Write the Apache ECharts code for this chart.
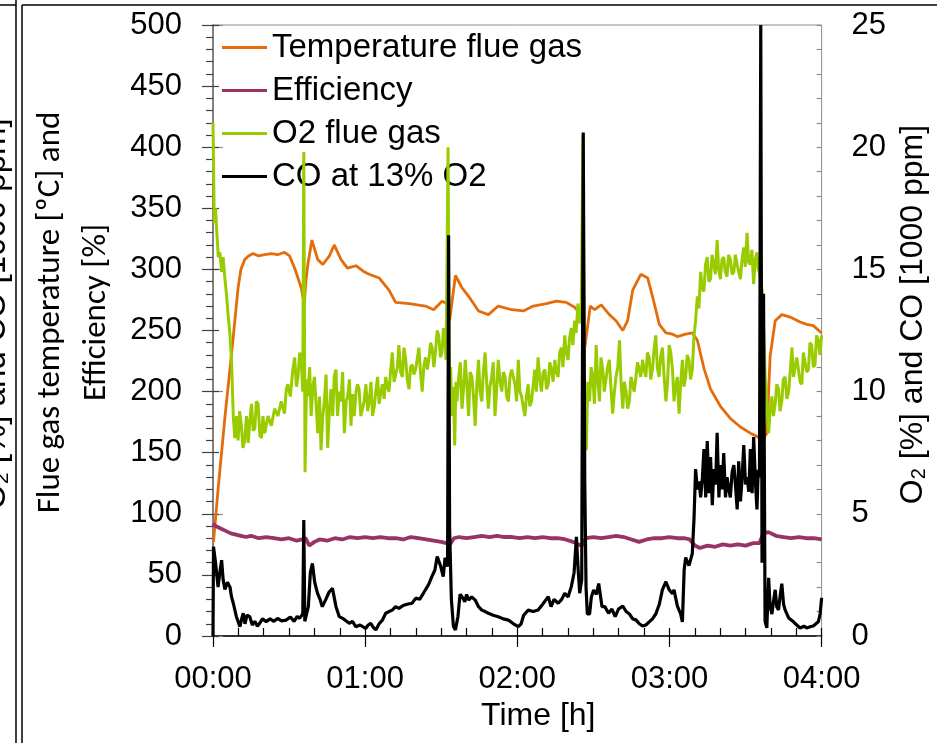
<!DOCTYPE html>
<html>
<head>
<meta charset="utf-8">
<script src="https://cdn.jsdelivr.net/npm/echarts@6/dist/echarts.min.js"></script>
<style>
  html, body { margin: 0; padding: 0; background: #fff; }
  #main { width: 937px; height: 743px; }
</style>
</head>
<body>
<div id="main"></div>
<script>
// time in minutes from start
const seriesNames = ['Temperature flue gas', 'Efficiency', 'O2 flue gas', 'CO at 13% O2'];

// left axis [°C]
const temperature = [
  [0.2,77],[2,120],[4.7,179],[6.5,215],[8,245],[9.9,285],[11,300],[12.5,308],[14,311],[15.8,313],
  [18,311],[20.4,312],[23,313],[25.5,312],[28.2,314],[30.2,311],[32.2,301],[34.8,285],[36,271],[36.6,290],
  [37.4,304],[39,324],[41.3,308],[43.3,304],[45.9,311],[47.8,320],[50.5,308],[53,301],[56.4,303],[59.6,298],
  [61.6,296],[65.5,293],[69.4,283],[72,273],[77.3,272],[83.8,270],[87,267],[90.3,274],[92.3,272],[93.3,258],
  [95.6,295],[98.2,285],[100.8,278],[104.7,266],[108.6,263],[112.5,270],[117.8,267],[122.4,266],[126.3,270],
  [131.5,272],[135.4,274],[139.3,273],[142.6,269],[145.2,263],[146.6,236],[148.8,270],[150.5,267],[153.1,271],
  [156.3,263],[158.9,258],[161.6,250],[163.5,258],[165.5,283],[168.7,296],[171.4,293],[173.3,278],[176,255],
  [178.6,248],[181.2,247],[183.1,245],[186.4,247],[189,248],[191,242],[193.6,219],[196.2,202],[200.1,188],
  [204,178],[208,171],[211.9,166],[214.8,163],[216.5,160],[218.4,166],[219.7,229],[221.7,258],[224.3,263],
  [227.6,261],[231.5,257],[234.1,255],[236.7,254],[240,248]
];

// left axis [%]
const efficiency = [
  [0,92],[1,90],[3,88],[5,86],[7,84],[9,83],[11,82],[13,81],[15,82],[18,80],[21,81],[24,80],[27,79],[30,80],
  [33,78],[35,79],[36.5,80],[38,74],[40,77],[42,79],[45,78],[48,80],[51,79],[54,81],[57,80],[60,81],[63,80],
  [66,81],[69,80],[72,80],[75,79],[78,81],[81,80],[84,79],[87,78],[90,77],[92,76],[93.5,75],[95,80],[97,81],
  [100,80],[103,81],[106,82],[109,81],[112,82],[115,81],[118,81],[121,80],[124,81],[127,80],[130,81],[133,80],
  [136,80],[139,79],[142,77],[144,75],[145.5,74],[147,80],[150,81],[153,80],[156,81],[159,82],[162,81],[165,79],
  [168,77],[171,79],[174,80],[177,80],[180,81],[183,80],[186,80],[188,79],[190,74],[192,72],[195,74],[198,73],
  [201,75],[204,74],[207,75],[210,74],[213,76],[215.5,76],[217,84],[219,85],[222,82],[225,81],[228,80],[231,81],
  [234,80],[237,80],[240,79]
];

// right axis [%]
const o2 = [
  [0,21.0],[0.5,16.9],[1.0,17.5],[1.4,16.7],[2.1,15.5],[2.7,15.7],[3.4,14.9],[4.0,15.5],[4.7,14.6],[5.3,14.0],
  [6.0,13.1],[6.7,12.3],[7.3,11.3],[8.0,9.0],[8.6,8.1],[9.3,9.0],[9.9,8.0],[10.5,9.2],[11.2,8.6],[11.8,7.7],
  [12.5,8.0],[13.2,9.0],[13.9,7.9],[14.5,8.8],[15.2,9.5],[15.8,8.4],[16.5,8.5],[17.1,9.6],[17.8,9.5],[18.5,8.2],
  [19.1,8.1],[19.7,9.0],[20.4,8.3],[21.7,9.0],[23.0,8.6],[24.3,9.3],[25.6,9.0],[26.9,9.6],[28.2,9.1],[28.9,10.1],
  [29.5,10.3],[30.5,9.8],[31.5,10.9],[32.2,11.4],[32.9,10.2],[33.5,10.6],[34.2,11.6],[34.8,11.3],[35.4,10.0],
  [35.8,19.8],[36.3,6.7],[36.9,10.5],[37.4,9.8],[38.1,11.0],[38.7,9.0],[39.4,10.2],[40.0,10.6],[40.7,9.4],
  [41.3,8.3],[42.0,9.8],[42.6,7.6],[43.3,9.0],[43.9,9.6],[44.6,10.7],[45.2,7.7],[45.9,9.2],[46.5,10.1],[47.2,9.0],
  [47.8,10.6],[48.5,10.9],[49.1,9.0],[49.8,10.0],[50.5,9.6],[51.1,10.8],[51.8,8.3],[52.5,9.6],[53.1,9.8],
  [53.8,10.5],[54.4,8.6],[55.1,9.9],[55.7,9.0],[56.4,10.0],[57.0,10.3],[57.6,10.1],[58.3,9.0],[59.0,9.0],
  [59.6,9.6],[60.3,10.3],[61.0,9.2],[61.6,9.6],[62.3,10.4],[62.9,9.0],[63.6,9.4],[64.2,10.0],[64.9,10.6],
  [65.5,9.5],[66.1,9.9],[66.8,10.3],[67.5,9.7],[68.1,10.6],[68.8,10.2],[69.4,10.0],[70.1,10.9],[70.7,11.6],
  [71.4,10.4],[72.0,10.4],[72.7,11.0],[73.3,11.9],[74.0,10.8],[74.7,10.6],[75.3,11.8],[76.0,11.3],[76.6,10.5],
  [77.3,10.1],[77.9,11.0],[78.6,11.1],[79.2,10.7],[79.9,10.9],[80.5,11.3],[81.2,11.8],[81.8,10.8],[82.5,10.0],
  [83.1,11.0],[83.8,11.4],[84.5,10.9],[85.1,11.3],[85.8,12.0],[86.4,11.8],[87.1,11.0],[87.7,11.6],[88.4,12.5],
  [89.0,12.3],[89.7,11.4],[90.3,11.6],[90.9,12.6],[91.4,12.4],[91.9,11.3],[92.7,20.0],[93.2,9.0],[93.7,11.0],
  [94.3,9.0],[94.8,10.2],[95.3,7.8],[95.8,10.4],[96.2,9.6],[96.9,10.6],[97.5,11.2],[98.2,9.3],[98.8,10.1],
  [99.5,11.3],[100.1,10.3],[100.8,9.0],[101.4,10.8],[102.1,10.6],[102.7,9.8],[103.4,8.6],[104.0,10.2],
  [104.7,11.3],[105.3,10.0],[106.0,9.6],[106.6,10.8],[107.3,11.6],[107.9,10.4],[108.6,9.3],[109.2,10.2],
  [109.9,10.6],[110.5,11.2],[111.2,9.0],[111.8,10.0],[112.5,11.3],[113.2,10.4],[113.9,10.0],[114.5,10.8],
  [115.2,10.6],[115.8,9.8],[116.5,9.6],[117.1,10.6],[117.8,10.9],[118.4,10.6],[119.1,10.3],[119.7,9.6],
  [120.4,11.3],[121.0,10.0],[121.7,9.8],[122.3,9.4],[123.0,9.0],[123.6,9.8],[124.3,10.3],[124.9,9.4],
  [125.6,9.6],[126.2,10.2],[126.9,10.9],[127.5,10.0],[128.2,11.4],[128.8,10.6],[129.5,10.0],[130.2,10.8],
  [130.9,10.9],[131.5,10.1],[132.2,10.3],[132.8,11.2],[133.5,10.9],[134.1,10.4],[134.8,11.3],[135.4,10.8],
  [136.1,10.6],[136.7,11.6],[137.4,11.8],[138.0,11.0],[138.7,12.3],[139.3,11.6],[140.0,11.3],[140.6,12.2],
  [141.3,12.6],[141.9,11.9],[142.6,12.9],[143.2,12.4],[143.9,13.6],[144.5,12.8],[145.2,13.2],[145.9,20.5],
  [146.5,9.5],[147.2,7.6],[147.8,10.4],[148.5,9.6],[149.1,11.0],[149.8,10.6],[150.4,9.5],[151.1,11.9],
  [151.7,10.5],[152.4,9.6],[153.0,11.4],[153.7,10.9],[154.3,10.0],[155.0,10.0],[155.6,11.0],[156.3,11.3],
  [156.9,10.2],[157.6,9.1],[158.2,9.9],[158.9,10.6],[159.6,11.0],[160.3,12.1],[160.9,10.4],[161.6,9.3],
  [162.2,10.4],[162.9,10.0],[163.5,9.3],[164.2,9.6],[164.8,10.6],[165.5,10.3],[166.1,10.0],[166.8,10.6],
  [167.4,11.2],[168.1,10.9],[168.7,10.6],[169.4,11.3],[170.0,10.9],[170.7,10.6],[171.3,11.6],[172.0,11.4],
  [172.6,10.5],[173.3,10.9],[173.9,11.7],[174.6,12.3],[175.2,11.0],[175.9,10.6],[176.5,11.4],[177.2,11.8],
  [177.9,10.6],[178.6,9.6],[179.2,10.3],[179.9,11.9],[180.5,11.6],[181.2,10.9],[181.8,9.6],[182.4,10.2],
  [183.1,10.6],[183.8,9.1],[184.4,10.3],[185.1,11.3],[185.7,10.2],[186.4,10.6],[187.0,11.5],[187.7,11.3],
  [188.3,10.5],[189.0,10.9],[189.7,12.3],[190.3,12.9],[191.0,13.9],[191.6,13.4],[192.3,14.9],[192.9,14.2],
  [193.6,14.1],[194.2,15.2],[194.9,15.5],[195.5,14.5],[196.2,14.6],[196.8,15.6],[197.5,15.2],[198.1,14.8],
  [198.8,16.2],[199.4,15.0],[200.1,14.6],[200.7,15.4],[201.4,15.5],[202.0,14.9],[202.7,14.7],[203.3,15.6],
  [204.0,15.4],[204.7,14.8],[205.4,14.9],[206.0,15.6],[206.7,15.2],[207.3,14.9],[208.0,14.6],[208.6,15.4],
  [209.3,15.9],[209.9,15.1],[210.6,16.5],[211.2,15.3],[211.9,15.2],[212.5,15.8],[213.2,14.4],[213.8,15.4],
  [214.5,15.7],[215.0,15.0],[215.5,14.9],[216.6,14.1],[217.1,14.1],[217.8,10.5],[218.4,9.6],[219.1,8.3],
  [219.7,9.2],[220.4,9.8],[221.0,9.0],[221.7,9.5],[222.3,10.3],[223.0,10.1],[223.6,9.2],[224.3,9.6],[224.9,10.5],
  [225.6,10.6],[226.3,9.7],[227.0,10.0],[227.6,10.8],[228.3,11.8],[228.9,10.6],[229.6,10.6],[230.2,11.4],
  [230.9,11.4],[231.5,10.4],[232.2,10.3],[232.8,11.6],[233.5,11.6],[234.1,10.8],[234.8,10.9],[235.4,12.0],
  [236.1,11.9],[236.7,11.0],[237.4,11.1],[238.0,12.3],[238.7,12.1],[239.3,11.5],[240,12.3]
];

// right axis [1000 ppm]
const co = [
  [0,0],[0.2,3.65],[1.0,3.0],[2.0,2.0],[2.7,2.6],[3.4,3.1],[4.0,2.3],[4.7,1.9],[5.7,2.2],[6.7,2.0],[7.3,1.6],
  [8.0,1.34],[9.2,0.8],[10.6,0.38],[11.3,0.7],[11.9,0.93],[12.6,0.5],[13.4,0.85],[14.5,0.79],[15.5,0.45],
  [16.5,0.6],[17.5,0.4],[18.4,0.52],[19.5,0.7],[21.0,0.59],[22.5,0.7],[24,0.6],[25.5,0.72],[27,0.62],[28.9,0.65],
  [30.5,0.78],[32,0.6],[33.2,0.8],[34.1,0.72],[35.4,0.9],[35.8,4.75],[36.2,0.6],[36.7,0.52],[37.6,1.2],[38.4,2.6],
  [39.2,2.97],[40.1,2.2],[41.2,1.75],[42.2,1.5],[43.1,1.2],[44.5,1.5],[45.8,1.8],[47.1,1.95],[48.5,1.2],
  [49.8,0.79],[51.5,0.7],[53.7,0.52],[55,0.6],[56.3,0.38],[58,0.45],[60.2,0.31],[61.2,0.45],[62.2,0.52],
  [63.2,0.35],[64.2,0.25],[65.5,0.5],[66.8,0.65],[68.1,0.93],[69.4,1.0],[70.7,1.06],[72,1.2],[73.3,1.13],[75,1.25],
  [76.5,1.3],[78.5,1.34],[80,1.55],[81.5,1.5],[82.7,1.7],[83.7,1.88],[85,2.1],[86.3,2.43],[87.5,2.7],[88.4,3.25],
  [89.7,2.88],[90.8,2.43],[91.5,3.2],[92.5,2.84],[92.9,16.4],[93.3,4.4],[94,1.5],[94.8,0.4],[95.6,0.25],
  [96.6,0.8],[97.4,1.7],[98.2,1.61],[99.3,1.4],[100,1.7],[100.8,1.47],[102,1.6],[103.4,1.47],[104.7,1.2],
  [106,1.06],[107.3,1.0],[108.6,0.93],[110.5,0.85],[112.5,0.79],[114.5,0.7],[116.5,0.65],[118.5,0.5],[120.4,0.38],
  [121.5,0.5],[122.5,0.85],[124.3,1.06],[126.3,1.0],[128.2,1.06],[130,1.3],[132.2,1.61],[133.3,1.2],[134.5,1.5],
  [136.1,1.34],[137.5,1.5],[138.7,1.75],[140,1.6],[141.3,2.02],[142.4,2.6],[143.3,4.06],[144,2.7],[144.6,1.75],
  [145.4,2.3],[146.0,20.6],[146.6,6.3],[147.1,2.0],[147.6,0.9],[148.5,0.9],[149.2,1.6],[150.1,1.88],[151.2,1.7],
  [152.1,2.15],[153.4,1.2],[154.5,1.2],[156,0.93],[157.3,1.1],[158.6,0.79],[159.9,1.1],[161.6,1.23],[162.9,1.0],
  [164.2,0.9],[165.5,0.7],[166.8,0.66],[168.1,0.5],[169.4,0.41],[170.7,0.45],[172,0.58],[173.3,0.7],[174.6,0.9],
  [176,1.3],[177.2,1.89],[178.6,2.22],[179.9,1.89],[181.2,1.73],[181.8,1.89],[183.1,1.23],[184.4,0.9],
  [185.1,0.58],[185.8,2.71],[186.4,3.21],[187.7,2.88],[189.0,3.37],[189.7,4.85],[190.3,6.83],[191.0,6.0],
  [191.7,6.33],[192.3,5.67],[193.0,6.5],[193.6,7.65],[194.3,5.67],[194.9,7.98],[195.6,5.84],[196.2,7.32],
  [196.9,5.35],[197.5,6.83],[198.2,6.2],[198.8,8.31],[199.5,5.67],[200.1,6.99],[200.8,6.0],[201.4,7.48],
  [202.1,5.67],[202.7,6.5],[203.4,6.0],[204.0,5.67],[204.7,6.7],[205.4,6.99],[206.0,6.2],[206.7,5.18],
  [207.3,7.15],[208.0,5.51],[208.6,6.4],[209.3,7.81],[210.0,6.2],[210.6,6.5],[211.3,5.9],[211.9,7.65],
  [212.6,5.84],[213.2,8.14],[213.9,6.3],[214.5,5.18],[215.0,6.8],[215.5,6.5],[216.0,25],[216.5,3.0],[217.1,14.0],
  [217.7,0.6],[218.4,0.33],[219.1,2.38],[219.7,1.2],[220.4,0.9],[221.0,1.4],[221.7,1.89],[222.3,1.2],[223.0,1.07],
  [223.6,1.6],[224.3,2.14],[225.0,1.3],[225.6,1.07],[227.0,0.74],[228.9,0.58],[230.2,0.45],[231.5,0.33],
  [233,0.4],[234.1,0.33],[235.5,0.38],[236.7,0.41],[238.7,0.58],[239.4,0.9],[240,1.56]
];

const timeRange = [0, 240, 60];     // min, max, interval [min]
const leftRange = [0, 500, 50];
const rightRange = [0, 25, 5];

const FONT = '"Liberation Sans", Arial, sans-serif';
const SIDE_FONT = 'Carlito, Lato, sans-serif';

function hhmm(v) {
  const h = Math.floor(v / 60), m = Math.round(v % 60);
  return String(h).padStart(2, '0') + ':' + String(m).padStart(2, '0');
}

const chart = echarts.init(document.getElementById('main'), null, { renderer: 'canvas' });

const option = {
  backgroundColor: '#ffffff',
  animation: false,
  color: ['#E46C0A', '#993366', '#99CC00', '#000000'],
  grid: {
    left: 213, right: 112, top: 25, bottom: 107,
    show: true, borderColor: '#8c8c8c', borderWidth: 1, backgroundColor: 'transparent'
  },
  legend: {
    orient: 'vertical', left: 222, top: 26, padding: 0, itemGap: 0,
    itemWidth: 45, itemHeight: 3, icon: 'rect', z: 1,
    textStyle: { fontFamily: FONT, fontSize: 33, lineHeight: 43, color: '#000' },
    data: seriesNames
  },
  xAxis: [
    {
      type: 'value', position: 'bottom',
      min: timeRange[0], max: timeRange[1], interval: timeRange[2],
      axisLine: { onZero: false, lineStyle: { color: '#000', width: 1.5 } },
      axisTick: { length: 11, lineStyle: { color: '#000', width: 1.2 } },
      axisLabel: { fontFamily: FONT, fontSize: 31, color: '#000', margin: 28, formatter: hhmm },
      splitLine: { show: false },
      name: 'Time [h]', nameLocation: 'middle', nameGap: 64,
      nameTextStyle: { fontFamily: FONT, fontSize: 32, color: '#000', padding: [0, 0, 0, 42] }
    },
    {
      type: 'value', position: 'bottom',
      min: timeRange[0], max: timeRange[1], interval: timeRange[2],
      axisLine: { show: false, onZero: false },
      axisTick: { inside: true, length: 8, lineStyle: { color: '#000', width: 1.2 } },
      minorTick: { show: true, splitNumber: 6, length: 8, lineStyle: { color: '#000', width: 1.2 } },
      axisLabel: { show: false },
      splitLine: { show: false }
    }
  ],
  yAxis: [
    {
      type: 'value', position: 'left',
      min: leftRange[0], max: leftRange[1], interval: leftRange[2],
      axisLine: { show: true, lineStyle: { color: '#404040', width: 1.5 } },
      axisTick: { show: true, length: 11, lineStyle: { color: '#404040', width: 1.2 } },
      minorTick: { show: true, splitNumber: 5, length: 7, lineStyle: { color: '#404040', width: 1.2 } },
      axisLabel: { fontFamily: FONT, fontSize: 31, color: '#000', margin: 31 },
      splitLine: { show: false },
      name: 'Flue gas temperature [ºC] and\nEfficiency [%]',
      nameLocation: 'middle', nameRotate: 90, nameGap: 88,
      nameTextStyle: {
        fontFamily: SIDE_FONT, fontSize: 33, lineHeight: 46, color: '#000',
        align: 'center', padding: [0, 0, 0, 36]
      }
    },
    {
      type: 'value', position: 'right',
      min: rightRange[0], max: rightRange[1], interval: rightRange[2],
      axisLine: { show: true, lineStyle: { color: '#8c8c8c', width: 1.5 } },
      axisTick: { show: true, length: 10, lineStyle: { color: '#8c8c8c', width: 1.2 } },
      axisLabel: { fontFamily: FONT, fontSize: 31, color: '#000', margin: 30 },
      splitLine: { show: false },
      name: 'O{s|2} [%] and CO [1000 ppm]',
      nameLocation: 'middle', nameRotate: 90, nameGap: 72,
      nameTextStyle: {
        fontFamily: FONT, fontSize: 32, color: '#000', padding: [0, 0, 0, 32],
        rich: { s: { fontFamily: FONT, fontSize: 20, lineHeight: 20, verticalAlign: 'bottom', color: '#000' } }
      }
    },
    {
      type: 'value', position: 'left',
      min: leftRange[0], max: leftRange[1], interval: leftRange[2],
      axisLine: { show: false },
      axisTick: { show: true, inside: true, length: 6, lineStyle: { color: '#404040', width: 1.2 } },
      axisLabel: { show: false },
      splitLine: { show: false }
    },
    {
      type: 'value', position: 'right',
      min: rightRange[0], max: rightRange[1], interval: rightRange[2],
      axisLine: { show: false },
      axisTick: { show: true, inside: true, length: 5, lineStyle: { color: '#8c8c8c', width: 1.2 } },
      minorTick: { show: true, splitNumber: 5, length: 5, lineStyle: { color: '#8c8c8c', width: 1.2 } },
      axisLabel: { show: false },
      splitLine: { show: false }
    }
  ],
  graphic: [
    // frame of this panel and the edge of the neighbouring one
    { type: 'line', shape: { x1: 16, y1: 0, x2: 16, y2: 743 }, style: { stroke: '#000', lineWidth: 1.5 } },
    { type: 'line', shape: { x1: 22, y1: 5, x2: 22, y2: 743 }, style: { stroke: '#000', lineWidth: 1.5 } },
    { type: 'line', shape: { x1: 0, y1: 5, x2: 16, y2: 5 }, style: { stroke: '#000', lineWidth: 1.5 } },
    { type: 'line', shape: { x1: 22, y1: 5, x2: 937, y2: 5 }, style: { stroke: '#000', lineWidth: 1.5 } },
    {
      type: 'text', x: -4, y: 314, rotation: Math.PI / 2,
      style: {
        text: 'O{s|2} [%] and CO [1000 ppm]',
        fontFamily: FONT, fontSize: 33, fill: '#000', align: 'center', verticalAlign: 'middle',
        rich: { s: { fontFamily: FONT, fontSize: 21, lineHeight: 21, verticalAlign: 'bottom', fill: '#000' } }
      }
    }
  ],
  series: [
    {
      name: seriesNames[0], type: 'line', yAxisIndex: 0, data: temperature,
      showSymbol: false, symbol: 'none', lineStyle: { width: 2.8, color: '#E46C0A' }, z: 2
    },
    {
      name: seriesNames[1], type: 'line', yAxisIndex: 0, data: efficiency,
      showSymbol: false, symbol: 'none', lineStyle: { width: 3.8, color: '#993366' }, z: 2
    },
    {
      name: seriesNames[2], type: 'line', yAxisIndex: 1, data: o2,
      showSymbol: false, symbol: 'none', lineStyle: { width: 3, color: '#99CC00' }, z: 2
    },
    {
      name: seriesNames[3], type: 'line', yAxisIndex: 1, data: co,
      showSymbol: false, symbol: 'none', lineStyle: { width: 3.2, color: '#000000' }, z: 2
    }
  ]
};

chart.setOption(option);
</script>
</body>
</html>
